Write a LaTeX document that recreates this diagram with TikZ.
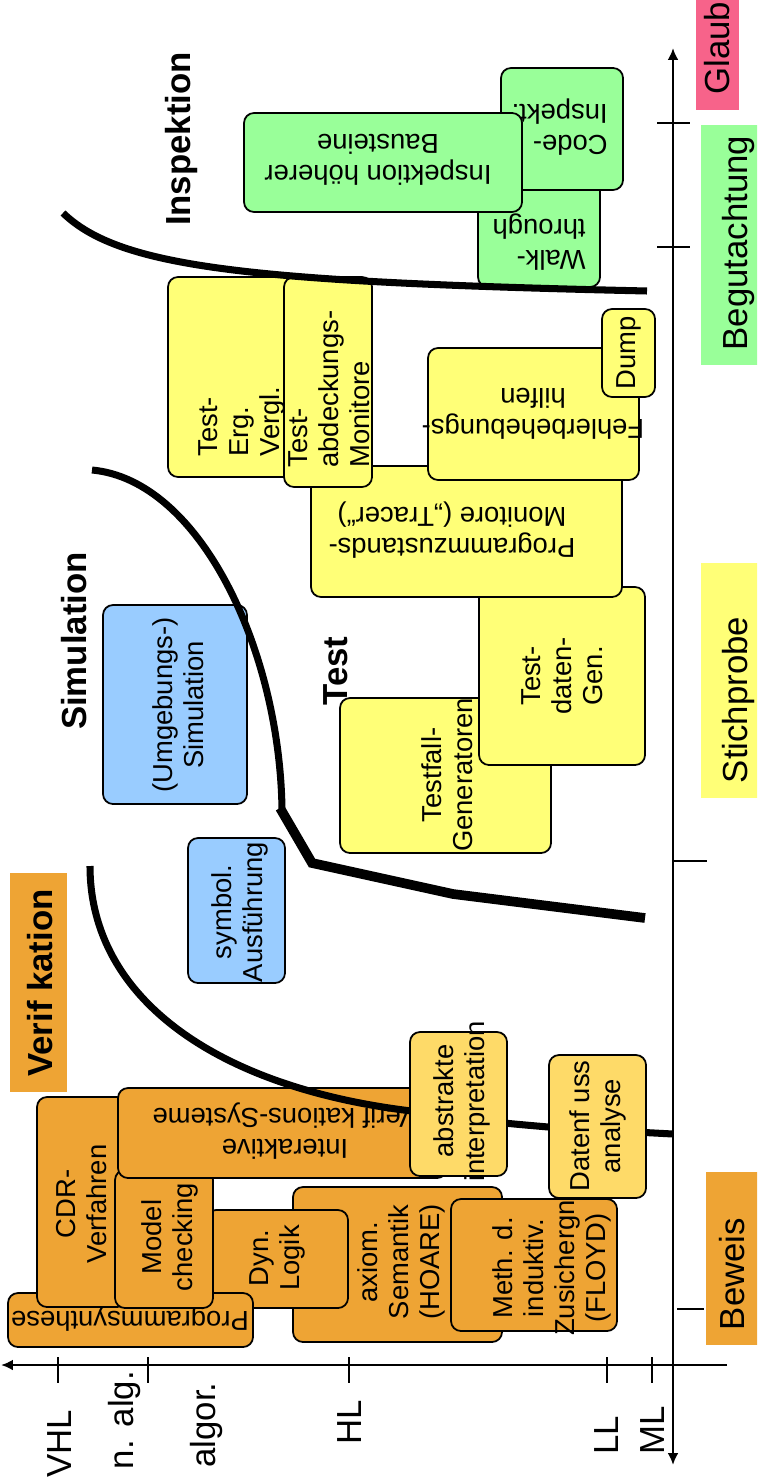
\documentclass[tikz,border=0pt]{standalone}
\usepackage{fontspec}
\setmainfont{Liberation Sans}
\usetikzlibrary{arrows.meta}

\definecolor{verifOrange}{RGB}{238,164,52}
\definecolor{analyseGelb}{RGB}{254,218,104}
\definecolor{testGelb}{RGB}{255,255,119}
\definecolor{simBlau}{RGB}{153,204,255}
\definecolor{inspGruen}{RGB}{153,255,153}
\definecolor{glaubRosa}{RGB}{247,99,138}

\newcommand{\kleinschrift}{\fontsize{15.6}{17.6}\selectfont}
\newcommand{\grossschrift}{\fontsize{19.8}{23}\selectfont}

\tikzset{
  kasten/.style={draw, line width=1pt, rounded corners=2mm},
  hoch/.style={rotate=90, align=center, inner sep=0pt, font=\kleinschrift},
  kopf/.style={rotate=180, align=center, inner sep=0pt, font=\kleinschrift},
  achse/.style={rotate=90, inner sep=0pt, font=\grossschrift},
  bereich/.style={rotate=90, inner sep=0pt, font=\grossschrift\bfseries},
  grenze/.style={line width=4pt}
}

\begin{document}
\begin{tikzpicture}[x=0.02cm, y=-0.02cm, >={Latex[length=2.4mm,width=2.2mm]}]
    \useasboundingbox (0,0) rectangle (757,1483);
    \clip (0,0) rectangle (757,1483);

    \draw[line width=1.4pt, ->] (727,1365) -- (1,1365);
    \draw[line width=1.4pt, <->] (673,1465) -- (673,48);
    \foreach \x in {58,148,349,607,652}
        \draw[line width=1.2pt] (\x,1357) -- (\x,1383);
    \draw[line width=1.2pt] (657,123) -- (690,123);
    \draw[line width=1.2pt] (657,247) -- (690,247);
    \draw[line width=1.2pt] (673,861) -- (707,861);
    \draw[line width=1.2pt] (677,1309) -- (704,1309);

    \node[achse] (vhl) at (60,1444) {VHL};
    \node[achse] (nalg) at (125,1420) {n. alg.};
    \node[achse] (algor) at (207,1425) {algor.};
    \node[achse] (hl) at (350,1422) {HL};
    \node[achse] (ll) at (607,1435) {LL};
    \node[achse] (ml) at (653,1430) {ML};

    \fill[glaubRosa] (696,-10) rectangle (739,110);
    \node[achse, anchor=west] (glaube) at (717,95) {Glaube};
    \fill[inspGruen] (701,125) rectangle (765,365);
    \node[achse] (begutachtung) at (738,243) {Begutachtung};
    \fill[testGelb] (701,563) rectangle (765,798);
    \node[achse] (stichprobe) at (738,700) {Stichprobe};
    \fill[verifOrange] (706,1172) rectangle (765,1345);
    \node[achse] (beweis) at (732,1274) {Beweis};

    \draw[kasten, fill=inspGruen] (478,160) rectangle (600,287);
    \node[kopf, anchor=west, align=left] (walk) at (586,242) {Walk-\\through};
    \draw[kasten, fill=inspGruen] (501,68) rectangle (623,190);
    \node[kopf, anchor=west, align=left] (code) at (608,127) {Code-\\Inspekt.};
    \draw[kasten, fill=inspGruen] (244,113) rectangle (522,212);
    \node[kopf] (hoehere) at (378,160) {Inspektion höherer\\Bausteine};

    \draw[kasten, fill=testGelb] (340,698) rectangle (551,853);
    \node[hoch] (testfall) at (447,775) {Testfall-\\Generatoren};
    \draw[kasten, fill=testGelb] (479,587) rectangle (645,765);
    \node[hoch] (testdaten) at (562,676) {Test-\\daten-\\Gen.};
    \draw[kasten, fill=testGelb] (311,466) rectangle (622,597);
    \node[kopf] (tracer) at (452,530) {Programmzustands-\\Monitore („Tracer“)};
    \draw[kasten, fill=testGelb] (428,348) rectangle (639,480);
    \node[kopf] (fehler) at (533,414) {Fehlerbehebungs-\\hilfen};
    \draw[kasten, fill=testGelb] (602,309) rectangle (655,397);
    \node[hoch] (dump) at (629,353) {Dump};
    \draw[kasten, fill=testGelb] (168,277) rectangle (315,477);
    \node[hoch, anchor=west, align=left] (vergl) at (242,457) {Test-\\Erg.\\Vergl.};
    \draw[kasten, fill=testGelb] (284,277) rectangle (372,487);
    \node[hoch, anchor=west, align=left] (abdeckung) at (329,468) {Test-\\abdeckungs-\\Monitore};

    \draw[kasten, fill=simBlau] (103,605) rectangle (247,804);
    \node[hoch] (umgebung) at (178,705) {(Umgebungs-)\\Simulation};
    \draw[kasten, fill=simBlau] (188,838) rectangle (285,983);
    \node[hoch] (symbol) at (240,912) {symbol.\\Ausführung};

    \draw[kasten, fill=verifOrange] (293,1187) rectangle (502,1342);
    \node[hoch] (hoare) at (401,1262) {axiom.\\Semantik\\(HOARE)};
    \draw[kasten, fill=verifOrange] (451,1199) rectangle (617,1331);
    \node[hoch] (floyd) at (552,1268) {Meth. d.\\induktiv.\\Zusichergn\\(FLOYD)};
    \draw[kasten, fill=verifOrange] (206,1210) rectangle (348,1308);
    \node[hoch] (dynlogik) at (277,1258) {Dyn.\\Logik};
    \draw[kasten, fill=verifOrange] (8,1293) rectangle (253,1347);
    \node[kopf] (synthese) at (130,1319) {Programmsynthese};
    \draw[kasten, fill=verifOrange] (37,1097) rectangle (127,1307);
    \node[hoch] (cdr) at (82,1204) {CDR-\\Verfahren};
    \draw[kasten, fill=verifOrange] (115,1170) rectangle (213,1308);
    \node[hoch] (model) at (170,1237) {Model\\checking};
    \draw[kasten, fill=verifOrange] (118,1088) rectangle (447,1178);
    \node[kopf] (interaktiv) at (285,1131) {Interaktive\\Verif kations-Systeme};

    \draw[grenze] (63,213) .. controls (120,268) and (250,282) .. (647,291);
    \draw[grenze] (92,470) .. controls (200,480) and (280,650) .. (282,810);
    \draw[line width=5.5pt] (280,808) -- (312,863) -- (453,894) -- (645,918);
    \draw[grenze] (90,866) .. controls (90,1000) and (220,1090) .. (420,1112)
        .. controls (490,1122) .. (560,1128) -- (673,1134);

    \draw[kasten, fill=analyseGelb] (410,1032) rectangle (507,1176);
    \node[hoch] (abstrakt) at (462,1101) {abstrakte\\interpretation};
    \draw[kasten, fill=analyseGelb] (549,1055) rectangle (646,1198);
    \node[hoch] (datenfluss) at (598,1126) {Datenf uss\\analyse};

    \fill[verifOrange] (10,873) rectangle (67,1092);
    \node[bereich] (verifikation) at (40,983) {Verif kation};
    \node[bereich] (inspektion) at (182,139) {Inspektion};
    \node[bereich] (simulation) at (74,641) {Simulation};
    \node[bereich] (test) at (336,671) {Test};
\end{tikzpicture}
\end{document}
